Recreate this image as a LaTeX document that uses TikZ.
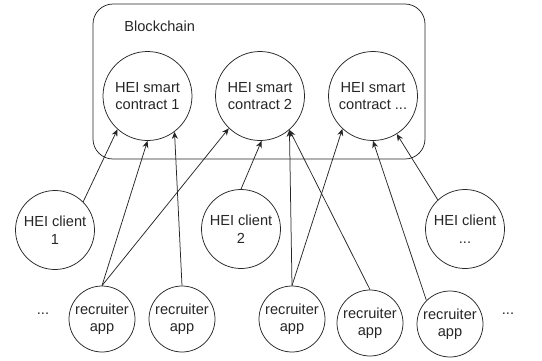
\documentclass[tikz,border=0pt]{standalone}
\usepackage{fontspec}
\setmainfont{Liberation Sans}
\usetikzlibrary{arrows.meta}

\begin{document}
\begin{tikzpicture}[x=1pt,y=-1pt,line width=0.75pt,color=black!85,
    every node/.style={font=\fontsize{14.6}{17.5}\selectfont},
    contract/.style={circle,draw,inner sep=0pt,minimum size=89pt,align=center},
    client/.style={circle,draw,inner sep=0pt,minimum size=79pt,align=center},
    app/.style={circle,draw,inner sep=0pt,minimum size=66pt,align=center},
    link/.style={-{Stealth[length=7pt,width=6pt]}}]
  \useasboundingbox (0,0) rectangle (542,360);
  % blockchain box
  \node [draw,rounded corners=20pt,minimum width=332pt,minimum height=155pt] (bc) at (259,81.5) {};
  \node [anchor=west,inner sep=0pt] (bclabel) at (124,26) {Blockchain};
  % smart contracts
  \node [contract] (sc1) at (147.5,96) {HEI smart\\contract 1};
  \node [contract] (sc2) at (260,96) {HEI smart\\contract 2};
  \node [contract] (sc3) at (373,96) {HEI smart\\contract ...};
  % clients
  \node [client] (c1) at (55,230) {HEI client\\1};
  \node [client] (c2) at (241,229) {HEI client\\2};
  \node [client] (c3) at (465,229) {HEI client\\...};
  % recruiter apps
  \node [app] (r1) at (102,319) {recruiter\\app};
  \node [app] (r2) at (182,319) {recruiter\\app};
  \node [app] (r3) at (292,319) {recruiter\\app};
  \node [app] (r4) at (370,323) {recruiter\\app};
  \node [app] (r5) at (450,324) {recruiter\\app};
  \node (dotsl) at (43,314) {...};
  \node (dotsr) at (508,314) {...};
  % arrows
  \draw [link] (c1.45) -- (sc1.228);
  \draw [link] (r1.north) -- (sc1.south);
  \draw [link] (r2.north) -- (sc1.307);
  \draw [link] (r1.north) -- (sc2.226);
  \draw [link] (c2.north) -- (sc2.272);
  \draw [link] (r3.north) -- (sc2.311);
  \draw [link] (r4.north) -- (sc2.311);
  \draw [link] (r3.north) -- (sc3.227);
  \draw [link] (r5.135) -- (sc3.south);
  \draw [link] (c3.133) -- (sc3.302);
\end{tikzpicture}
\end{document}
